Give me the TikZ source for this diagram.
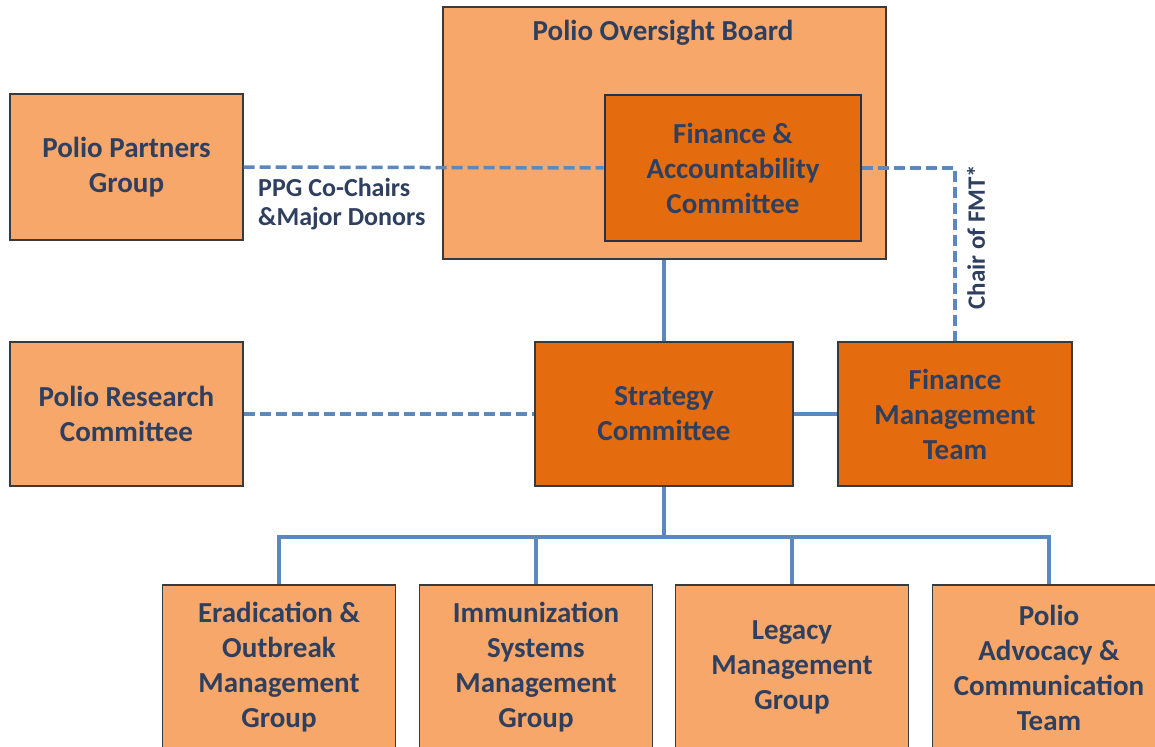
\documentclass[tikz,border=0pt]{standalone}
\usepackage{fontspec}
\setmainfont{Carlito}
\usepackage{tikz,color}
\definecolor{lightorg}{HTML}{F6A769}
\definecolor{darkorg}{HTML}{E46C0E}
\definecolor{txtblue}{HTML}{2E3F5F}
\definecolor{linkblue}{HTML}{5B89BF}
\definecolor{rimgray}{HTML}{3A3A3A}

\begin{document}
\begin{tikzpicture}[x=1pt, y=-1pt,
            box/.style={draw=rimgray, line width=1.3pt, fill=lightorg, inner sep=0pt,
                text=txtblue, align=center, font=\fontsize{29}{35}\selectfont\bfseries},
            keybox/.style={box, fill=darkorg},
            link/.style={draw=linkblue, line width=3.5pt},
            dashlink/.style={link, dash pattern=on 11pt off 5pt},
            note/.style={text=txtblue, font=\fontsize{26}{29}\selectfont\bfseries, inner sep=0pt}]
        \useasboundingbox (0,0) rectangle (1155,746);
        \clip (0,0) rectangle (1155,746);

        \node[box, minimum width=443pt, minimum height=252pt] (pob) at (664.5,133) {};
        \node[txtblue, font=\fontsize{29}{35}\selectfont\bfseries] (pobtitle) at (663,33) {Polio Oversight Board};
        \node[keybox, draw=txtblue!80!black, line width=2.8pt, minimum width=256pt, minimum height=146pt] (fac) at (733,168)
            {Finance \&\\Accountability\\Committee};

        \node[box, minimum width=233pt, minimum height=146pt] (ppg) at (126.5,167) {Polio Partners\\Group};
        \node[box, minimum width=233pt, minimum height=144pt] (prc) at (126.5,414) {Polio Research\\Committee};
        \node[keybox, minimum width=258pt, minimum height=144pt] (sc) at (664,414) {Strategy\\Committee};
        \node[keybox, minimum width=234pt, minimum height=144pt] (fmt) at (955,414) {Finance\\Management\\Team};

        \node[box, minimum width=233pt, minimum height=165pt] (eomg) at (279,667.5) {Eradication \&\\Outbreak\\Management\\Group};
        \node[box, minimum width=233pt, minimum height=165pt] (ismg) at (536,667.5) {Immunization\\Systems\\Management\\Group};
        \node[box, minimum width=233pt, minimum height=165pt] (lmg) at (792,667.5) {Legacy\\Management\\Group};
        \node[box, minimum width=233pt, minimum height=165pt] (pact) at (1049,667.5) {Polio\\Advocacy \&\\Communication\\Team};

        \draw[dashlink] (ppg.east) -- (fac.west);
        \draw[dashlink] (fac.east) -| (fmt.north);
        \draw[dashlink] (prc.east) -- (sc.west);
        \draw[link] (pob.south -| sc.north) -- (sc.north);
        \draw[link] (sc.east) -- (fmt.west);

        \coordinate (fork) at (664,537);
        \draw[link] (sc.south) -- (fork);
        \foreach \grp in {eomg,ismg,lmg,pact}
            \draw[link] (fork) -| (\grp.north);

        \node[note, anchor=north west, align=left] (ppgnote) at (258,178) {PPG Co-Chairs\\\&Major Donors};
        \node[note, font=\fontsize{25}{29}\selectfont\bfseries, rotate=90] (fmtnote) at (976,237) {Chair of FMT*};
\end{tikzpicture}
\end{document}
